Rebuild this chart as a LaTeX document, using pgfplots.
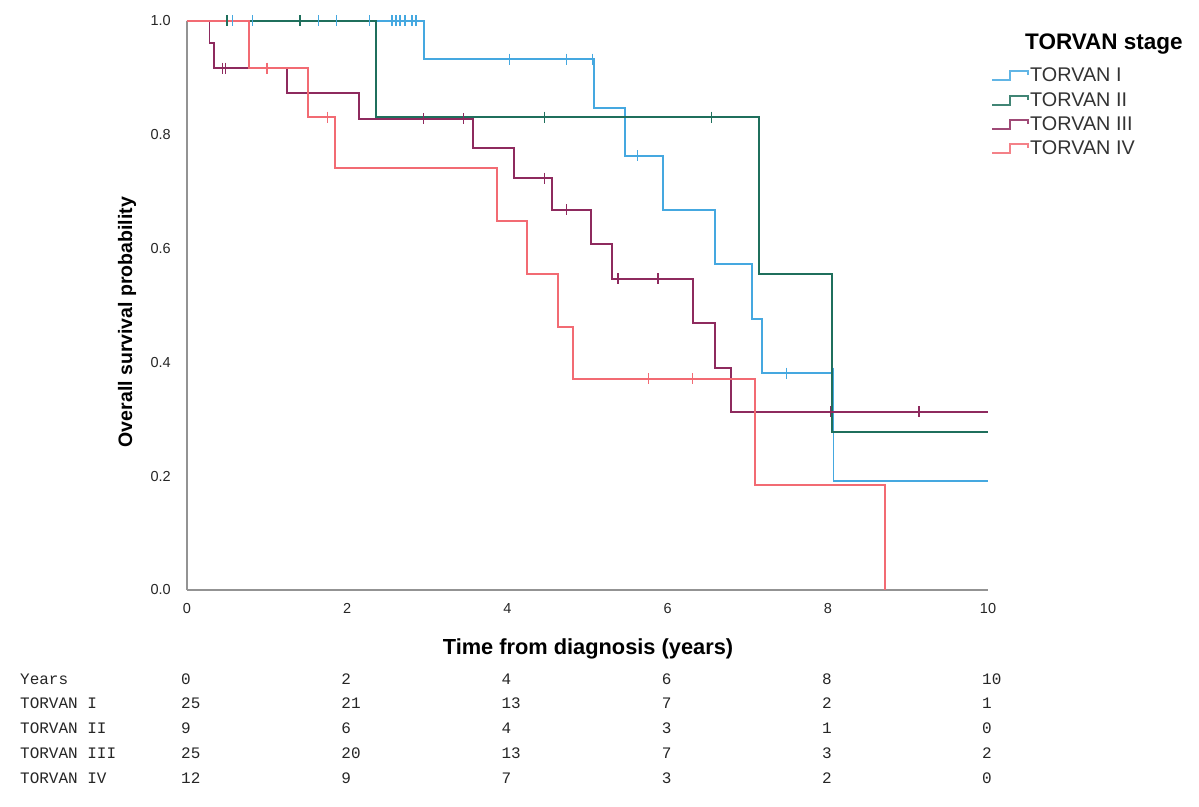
\documentclass[border=0pt]{standalone}
\usepackage{fontspec}
\setmainfont{Liberation Sans}
\newfontfamily\monofont{Liberation Mono}
\usepackage{pgfplots}
\pgfplotsset{compat=1.18}
\definecolor{cI}{HTML}{45A8E0}
\definecolor{cII}{HTML}{1F6F5C}
\definecolor{cIII}{HTML}{8E2A5E}
\definecolor{cIV}{HTML}{F26B73}
\begin{document}
\begin{tikzpicture}[x=1pt,y=1pt]
\begin{axis}[name=ax, at={(0,0)}, anchor=south west,
  width=801pt, height=569pt, scale only axis,
  xmin=0, xmax=10, ymin=0, ymax=1,
  axis lines=left, axis line style={-, draw=gray!85, line width=1.3pt},
  major tick length=0pt,
  xtick={0,2,4,6,8,10}, ytick={0,0.2,0.4,0.6,0.8,1.0},
  /pgf/number format/assume math mode=true,
  ticklabel style={font=\fontsize{14.5}{16}\selectfont, text=black!85},
  yticklabel style={inner sep=0pt, xshift=-16pt, /pgf/number format/.cd, fixed, fixed zerofill, precision=1},
  xticklabel style={inner sep=0pt, yshift=-13pt},
  clip=false]
% TORVAN I
\addplot[cI, line width=1.8pt, const plot] coordinates {(0,1) (2.96,0.933) (5.08,0.847) (5.47,0.763) (5.94,0.668) (6.59,0.573) (7.05,0.476) (7.18,0.381) (8.07,0.191) (10,0.191)};
\addplot[cI, only marks, mark=|, mark size=5.5pt, mark options={line width=1.3pt}, forget plot] coordinates {(0.57,1) (0.82,1) (1.64,1) (1.87,1) (2.28,1) (2.56,1) (2.61,1) (2.66,1) (2.72,1) (2.81,1) (2.86,1) (4.03,0.933) (4.74,0.933) (5.06,0.933) (5.62,0.763) (7.48,0.381) (8.07,0.381)};
% TORVAN II
\addplot[cII, line width=1.8pt, const plot] coordinates {(0,1) (2.36,0.831) (7.14,0.555) (8.05,0.277) (10,0.277)};
\addplot[cII, only marks, mark=|, mark size=5.5pt, mark options={line width=1.3pt}, forget plot] coordinates {(0.50,1) (1.41,1) (4.46,0.831) (6.55,0.831)};
% TORVAN III
\addplot[cIII, line width=1.8pt, const plot] coordinates {(0,1) (0.28,0.961) (0.34,0.917) (1.25,0.873) (2.15,0.828) (3.57,0.777) (4.08,0.724) (4.56,0.668) (5.04,0.608) (5.31,0.547) (6.32,0.469) (6.59,0.390) (6.79,0.313) (10,0.313)};
\addplot[cIII, only marks, mark=|, mark size=5.5pt, mark options={line width=1.3pt}, forget plot] coordinates {(0.44,0.917) (0.48,0.917) (2.95,0.828) (3.45,0.828) (4.46,0.724) (4.74,0.668) (5.38,0.547) (5.88,0.547) (8.03,0.313) (9.14,0.313)};
% TORVAN IV
\addplot[cIV, line width=1.8pt, const plot] coordinates {(0,1) (0.77,0.917) (1.51,0.831) (1.85,0.742) (3.87,0.648) (4.24,0.555) (4.63,0.462) (4.82,0.371) (7.09,0.185) (8.71,0)};
\addplot[cIV, only marks, mark=|, mark size=5.5pt, mark options={line width=1.3pt}, forget plot] coordinates {(1.00,0.917) (1.75,0.831) (5.76,0.371) (6.31,0.371)};
\end{axis}
% axis labels
\node[font=\fontsize{21.8}{24}\selectfont\bfseries] at (401,-59) {Time from diagnosis (years)};
\node[font=\fontsize{19.5}{22}\selectfont\bfseries, rotate=90] at (-60,268) {Overall survival probability};
% legend
\node[anchor=west, inner sep=0pt, font=\fontsize{22.5}{26}\selectfont\bfseries] at (838,546) {TORVAN stage};
\foreach \c/\yy/\t in {cI/515/TORVAN I, cII/490/TORVAN II, cIII/466/TORVAN III, cIV/442/TORVAN IV}{
  \draw[\c!85, line width=1.5pt] (805,\yy-5) -- (823,\yy-5) -- (823,\yy+4) -- (841,\yy+4) -- (841,\yy);
  \node[anchor=west, inner sep=0pt, text=black!80, font=\fontsize{19.8}{22}\selectfont] at (843,\yy) {\t};
}
% number at risk table
\begin{scope}[every node/.style={anchor=west, inner sep=0pt, text=black!85, font=\monofont\fontsize{16}{18}\selectfont}]
\node at (-167,-89) {Years};
\node at (-167,-113) {TORVAN I};
\node at (-167,-138) {TORVAN II};
\node at (-167,-163) {TORVAN III};
\node at (-167,-188) {TORVAN IV};
\foreach \t/\a/\b/\c/\d in {0/25/9/25/12, 2/21/6/20/9, 4/13/4/13/7, 6/7/3/7/3, 8/2/1/3/2, 10/1/0/2/0}{
  \node at (80.1*\t-6,-89) {\t};
  \node at (80.1*\t-6,-113) {\a};
  \node at (80.1*\t-6,-138) {\b};
  \node at (80.1*\t-6,-163) {\c};
  \node at (80.1*\t-6,-188) {\d};
}
\end{scope}
\pgfresetboundingbox
\path[use as bounding box] (-187,-216) rectangle (1012,590);
\end{tikzpicture}
\end{document}
